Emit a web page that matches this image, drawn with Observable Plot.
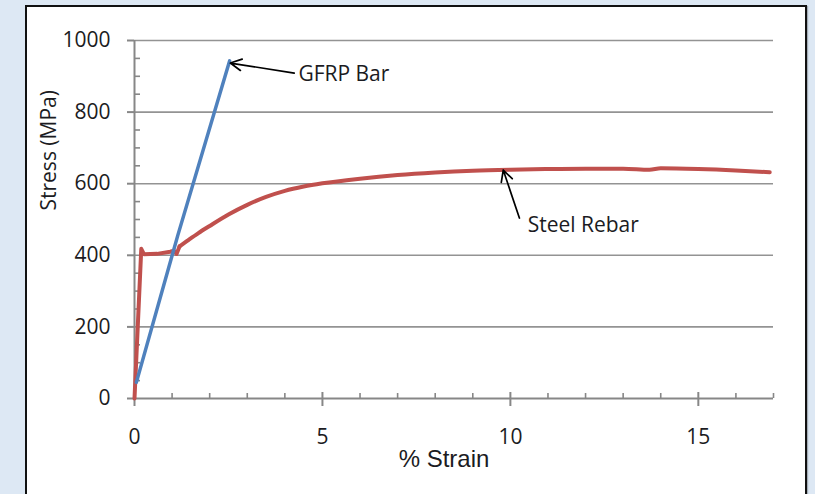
<!DOCTYPE html>
<html>
<head>
<meta charset="utf-8">
<script src="https://cdn.jsdelivr.net/npm/d3@7"></script>
<script src="https://cdn.jsdelivr.net/npm/@observablehq/plot@0.6"></script>
<style>
  html, body { margin: 0; padding: 0; background: #dde8f4; }
  #wrap { position: relative; width: 815px; height: 494px; overflow: hidden; }
  #panel {
    position: absolute; left: 25px; top: 5px; width: 778px; height: 520px;
    border: 2px solid #111; background: #fff;
    box-shadow: 1px 1px 1px rgba(0, 0, 0, 0.25);
  }
  #chart { position: absolute; left: 0; top: 0; }
</style>
</head>
<body>
<div id="wrap"><div id="panel"></div><div id="chart"></div></div>
<script>
// Tensile stress–strain curves: GFRP bar vs. steel rebar
const gfrpStrain = [0.05, 1.15, 2.53];
const gfrpStress = [45, 455, 943];

const steelStrain = [0, 0.18, 0.25, 0.6, 0.95, 1.05, 1.12, 1.2, 1.4, 1.7, 2.0, 2.5, 3.0, 3.5, 4.0, 4.5, 5.0, 6.0, 7.0, 8.0, 9.0, 10.0, 11.0, 12.0, 13.0, 13.7, 14.0, 15.0, 16.0, 16.9];
const steelStress = [0, 418, 403, 404, 410, 413, 404, 425, 440, 462, 482, 514, 541, 563, 580, 592, 601, 614, 624, 631, 636, 639, 641, 642, 642, 639, 643, 641, 637, 632];
// strain where the yield plateau ends and strain hardening begins
const hardeningStart = 1.2;

// Axis ticks
const strainTicks = [0, 5, 10, 15];
const strainMinor = [1, 2, 3, 4, 6, 7, 8, 9, 11, 12, 13, 14, 16, 17];
const stressTicks = [0, 200, 400, 600, 800, 1000];
const stressMinor = [50, 100, 150, 250, 300, 350, 450, 500, 550, 650, 700, 750, 850, 900, 950];

// Callouts: label anchor and arrow tail/tip
const noteLabels = ["GFRP Bar", "Steel Rebar"];
const noteTextX = [4.36, 10.46];
const noteTextY = [905, 485];
const noteTailX = [4.25, 10.24];
const noteTailY = [909, 504];
const noteTipX = [2.55, 9.81];
const noteTipY = [937, 638];

const gfrp = gfrpStrain.map((s, i) => ({strain: s, stress: gfrpStress[i]}));
const steel = steelStrain.map((s, i) => ({strain: s, stress: steelStress[i]}));
const steelElastic = steel.filter(d => d.strain <= hardeningStart);
const steelHardening = steel.filter(d => d.strain >= hardeningStart);
const notes = noteLabels.map((label, i) => ({
  label, tx: noteTextX[i], ty: noteTextY[i],
  x1: noteTailX[i], y1: noteTailY[i], x2: noteTipX[i], y2: noteTipY[i]
}));

const axisGray = "#878787";
const gridGray = "#939393";
const ink = "#1b1b22";
const steelRed = "#c0504d";
const font = "'Open Sans', sans-serif";
const plain = d3.format("d");

const chart = Plot.plot({
  width: 815,
  height: 494,
  marginLeft: 134,
  marginRight: 42,
  marginTop: 40,
  marginBottom: 96,
  style: {background: "transparent", fontFamily: font, color: ink, overflow: "visible"},
  x: {domain: [0, 17]},
  y: {domain: [0, 1000]},
  marks: [
    Plot.gridY(stressTicks.filter(d => d > 0), {stroke: gridGray, strokeOpacity: 1, strokeWidth: 1.6}),
    Plot.axisY(stressTicks, {tickSize: 7, tickPadding: 17, tickFormat: plain, stroke: axisGray, strokeWidth: 2, fontSize: 21, label: null}),
    Plot.axisY(stressMinor, {tickSize: 6, dx: 6, tickFormat: () => "", stroke: axisGray, strokeWidth: 1.6, label: null}),
    Plot.axisX(strainTicks, {tickSize: 14, dy: -6, tickFormat: () => "", stroke: axisGray, strokeWidth: 2, label: null}),
    Plot.axisX(strainMinor, {tickSize: 5, dy: -5, tickFormat: () => "", stroke: axisGray, strokeWidth: 1.6, label: null}),
    Plot.axisX(strainTicks, {tickSize: 0, tickPadding: 31, tickFormat: plain, fontSize: 21, label: null}),
    Plot.ruleX([0], {stroke: axisGray, strokeWidth: 2}),
    Plot.ruleY([0], {stroke: axisGray, strokeWidth: 2}),
    Plot.line(steelElastic, {x: "strain", y: "stress", stroke: steelRed, strokeWidth: 4, strokeLinejoin: "round", strokeLinecap: "round"}),
    Plot.line(steelHardening, {x: "strain", y: "stress", stroke: steelRed, strokeWidth: 4, strokeLinejoin: "round", strokeLinecap: "round", curve: "monotone-x"}),
    Plot.line(gfrp, {x: "strain", y: "stress", stroke: "#4f81bd", strokeWidth: 3.5, strokeLinejoin: "round"}),
    Plot.arrow(notes, {x1: "x1", y1: "y1", x2: "x2", y2: "y2", stroke: "#000", strokeWidth: 1.7, headLength: 11, headAngle: 55}),
    Plot.text(notes, {x: "tx", y: "ty", text: "label", textAnchor: "start", fontSize: 21, fill: ink}),
    Plot.text(["Stress (MPa)"], {frameAnchor: "left", rotate: -90, dx: -85, dy: -9, fontSize: 21, fill: ink}),
    Plot.text(["% Strain"], {frameAnchor: "bottom", dx: -10, dy: 68, fontSize: 24, fontFamily: "'Liberation Sans', Arial, sans-serif", fill: ink})
  ]
});

document.getElementById("chart").appendChild(chart);
</script>
</body>
</html>
